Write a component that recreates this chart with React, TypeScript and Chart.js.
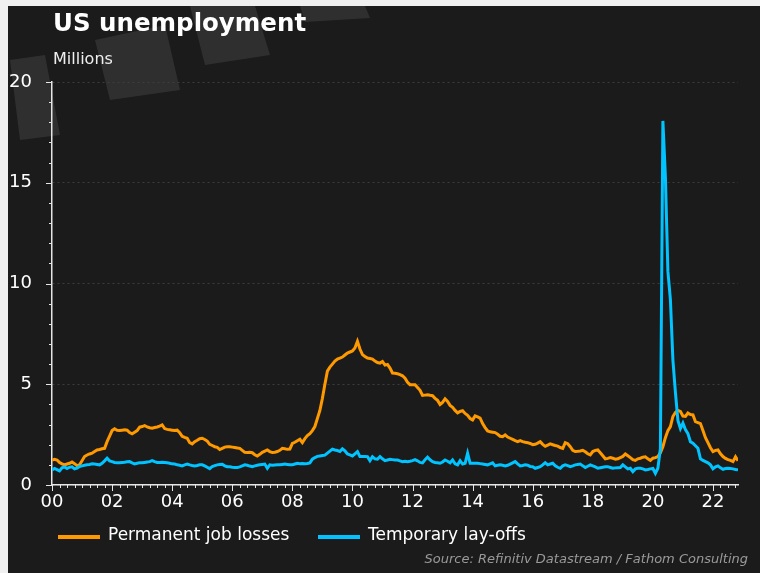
import React, { useEffect, useRef } from 'react';
import { Chart, registerables } from 'chart.js';

Chart.register(...registerables);

// Monthly series, January 2000 to November 2022 (millions)
const START_YEAR = 2000;
const TITLE = 'US unemployment';
const UNIT = 'Millions';
const SOURCE = 'Source: Refinitiv Datastream / Fathom Consulting';
const SERIES_NAMES = ['Permanent job losses', 'Temporary lay-offs'];
const X_TICK_LABELS = ['00', '02', '04', '06', '08', '10', '12', '14', '16', '18', '20', '22'];
const Y_TICK_STEP = 5;
const Y_MAX = 20;

const PERMANENT = [
  1.24, 1.28, 1.24, 1.12, 1.05, 1.0, 1.04, 1.08, 1.14, 1.06, 0.96, 1.0, // 2000
  1.2, 1.41, 1.49, 1.54, 1.58, 1.66, 1.74, 1.76, 1.8, 1.82, 2.15, 2.42, // 2001
  2.7, 2.79, 2.72, 2.7, 2.72, 2.74, 2.72, 2.6, 2.54, 2.62, 2.7, 2.87, // 2002
  2.9, 2.95, 2.88, 2.84, 2.82, 2.85, 2.88, 2.92, 2.98, 2.8, 2.76, 2.74, // 2003
  2.72, 2.7, 2.72, 2.6, 2.42, 2.36, 2.32, 2.1, 2.04, 2.15, 2.22, 2.3, // 2004
  2.32, 2.26, 2.18, 2.02, 1.96, 1.9, 1.87, 1.76, 1.82, 1.88, 1.9, 1.9, // 2005
  1.88, 1.86, 1.84, 1.82, 1.72, 1.62, 1.61, 1.62, 1.6, 1.5, 1.44, 1.52, // 2006
  1.62, 1.68, 1.74, 1.66, 1.61, 1.63, 1.66, 1.72, 1.82, 1.8, 1.77, 1.78, // 2007
  2.07, 2.12, 2.2, 2.27, 2.1, 2.3, 2.45, 2.55, 2.7, 2.9, 3.3, 3.7, // 2008
  4.3, 5.0, 5.65, 5.85, 6.0, 6.15, 6.25, 6.3, 6.35, 6.45, 6.55, 6.6, // 2009
  6.65, 6.8, 7.13, 6.75, 6.47, 6.38, 6.3, 6.28, 6.25, 6.15, 6.08, 6.05, // 2010
  6.13, 5.95, 5.98, 5.8, 5.56, 5.55, 5.52, 5.48, 5.42, 5.3, 5.1, 4.98, // 2011
  4.98, 4.98, 4.84, 4.7, 4.45, 4.46, 4.48, 4.45, 4.43, 4.3, 4.2, 4.0, // 2012
  4.1, 4.28, 4.15, 3.95, 3.86, 3.7, 3.58, 3.65, 3.69, 3.55, 3.46, 3.3, // 2013
  3.23, 3.43, 3.38, 3.32, 3.05, 2.85, 2.68, 2.64, 2.62, 2.6, 2.52, 2.42, // 2014
  2.4, 2.49, 2.38, 2.32, 2.26, 2.2, 2.15, 2.2, 2.15, 2.12, 2.1, 2.06, // 2015
  2.0, 2.02, 2.08, 2.15, 2.02, 1.92, 1.98, 2.04, 2.0, 1.96, 1.93, 1.86, // 2016
  1.82, 2.1, 2.05, 1.9, 1.72, 1.66, 1.67, 1.69, 1.72, 1.65, 1.55, 1.49, // 2017
  1.66, 1.72, 1.74, 1.6, 1.45, 1.3, 1.32, 1.36, 1.33, 1.28, 1.3, 1.36, // 2018
  1.42, 1.54, 1.45, 1.36, 1.26, 1.22, 1.3, 1.33, 1.38, 1.4, 1.3, 1.22, // 2019
  1.33, 1.36, 1.41, 1.6, 1.9, 2.35, 2.7, 2.9, 3.4, 3.6, 3.7, 3.65, // 2020
  3.42, 3.4, 3.57, 3.5, 3.48, 3.15, 3.1, 3.05, 2.7, 2.35, 2.1, 1.85, // 2021
  1.66, 1.72, 1.74, 1.55, 1.41, 1.32, 1.26, 1.22, 1.16, 1.4, 1.2, // 2022
];

const TEMPORARY = [
  0.75, 0.82, 0.76, 0.7, 0.85, 0.9, 0.82, 0.88, 0.9, 0.8, 0.84, 0.92, // 2000
  0.95, 0.98, 1.0, 1.02, 1.05, 1.04, 1.02, 1.0, 1.08, 1.2, 1.33, 1.2, // 2001
  1.16, 1.12, 1.1, 1.1, 1.12, 1.13, 1.15, 1.16, 1.1, 1.05, 1.08, 1.1, // 2002
  1.1, 1.12, 1.14, 1.16, 1.21, 1.16, 1.12, 1.12, 1.13, 1.12, 1.1, 1.08, // 2003
  1.05, 1.04, 1.0, 0.98, 0.95, 1.0, 1.04, 1.0, 0.97, 0.95, 0.97, 1.0, // 2004
  1.0, 0.95, 0.88, 0.81, 0.92, 0.96, 1.0, 1.02, 1.03, 0.95, 0.91, 0.9, // 2005
  0.88, 0.87, 0.87, 0.9, 0.95, 1.0, 0.98, 0.94, 0.91, 0.95, 0.98, 1.0, // 2006
  1.02, 1.04, 0.83, 1.0, 0.98, 0.99, 1.0, 1.0, 1.02, 1.04, 1.02, 1.0, // 2007
  1.0, 1.04, 1.08, 1.06, 1.07, 1.06, 1.07, 1.1, 1.28, 1.36, 1.42, 1.44, // 2008
  1.46, 1.48, 1.58, 1.68, 1.78, 1.74, 1.71, 1.66, 1.8, 1.7, 1.54, 1.5, // 2009
  1.44, 1.55, 1.66, 1.41, 1.41, 1.42, 1.41, 1.21, 1.4, 1.3, 1.28, 1.41, // 2010
  1.3, 1.21, 1.24, 1.28, 1.26, 1.24, 1.24, 1.2, 1.16, 1.18, 1.16, 1.18, // 2011
  1.21, 1.26, 1.2, 1.12, 1.1, 1.25, 1.38, 1.25, 1.16, 1.12, 1.1, 1.08, // 2012
  1.14, 1.24, 1.18, 1.1, 1.24, 1.05, 1.0, 1.21, 1.04, 1.08, 1.58, 1.08, // 2013
  1.08, 1.08, 1.08, 1.06, 1.04, 1.02, 1.0, 1.05, 1.1, 0.95, 0.98, 1.0, // 2014
  0.98, 0.95, 0.98, 1.04, 1.1, 1.16, 1.05, 0.95, 0.97, 1.0, 0.98, 0.92, // 2015
  0.91, 0.83, 0.87, 0.91, 1.0, 1.11, 1.0, 1.04, 1.08, 0.95, 0.88, 0.83, // 2016
  0.95, 1.0, 0.96, 0.91, 0.95, 1.0, 1.02, 1.04, 0.95, 0.87, 0.93, 1.0, // 2017
  0.95, 0.9, 0.83, 0.86, 0.88, 0.9, 0.91, 0.87, 0.83, 0.85, 0.86, 0.87, // 2018
  1.0, 0.9, 0.8, 0.83, 0.66, 0.8, 0.83, 0.83, 0.8, 0.75, 0.77, 0.8, // 2019
  0.82, 0.58, 0.83, 1.8, 18.07, 15.3, 10.6, 9.2, 6.2, 4.6, 3.2, 2.8, // 2020
  3.07, 2.75, 2.55, 2.15, 2.07, 1.95, 1.82, 1.3, 1.22, 1.16, 1.1, 1.0, // 2021
  0.8, 0.9, 0.95, 0.85, 0.78, 0.82, 0.83, 0.82, 0.8, 0.77, 0.75, // 2022
];

const COLORS = ['#FF9900', '#00C3FF'];
const FONT = "'DejaVu Sans', 'Liberation Sans', sans-serif";
const AXIS_COLOR = '#e6e6e6';

const decorPlugin = {
  id: 'decor',
  beforeDraw(chart: any) {
    const ctx = chart.ctx;
    ctx.save();
    ctx.fillStyle = '#1b1b1b';
    ctx.fillRect(0, 0, chart.width, chart.height);
    // faint logo stripes in the top-left corner
    ctx.fillStyle = 'rgba(255,255,255,0.09)';
    const shapes = [
      [[2, 54], [37, 49], [52, 129], [12, 134]],
      [[87, 34], [157, 19], [172, 84], [102, 94]],
      [[182, 0], [247, 0], [262, 49], [197, 59]],
      [[292, 0], [357, 0], [362, 12], [297, 16]],
    ];
    for (const s of shapes) {
      ctx.beginPath();
      ctx.moveTo(s[0][0], s[0][1]);
      for (let i = 1; i < s.length; i++) ctx.lineTo(s[i][0], s[i][1]);
      ctx.closePath();
      ctx.fill();
    }
    ctx.restore();
  },
  afterDraw(chart: any) {
    const ctx = chart.ctx;
    const { left, bottom } = chart.chartArea;
    const xs = chart.scales.x;
    const ys = chart.scales.y;
    ctx.save();
    ctx.strokeStyle = AXIS_COLOR;
    ctx.lineWidth = 1;
    ctx.beginPath();
    for (let v = 0; v <= Y_MAX; v++) {
      const y = Math.round(ys.getPixelForValue(v)) + 0.5;
      const len = v % Y_TICK_STEP === 0 ? 6 : 3;
      ctx.moveTo(left - len, y);
      ctx.lineTo(left, y);
    }
    const last = PERMANENT.length - 1;
    for (let m = 0; m <= last; m += 3) {
      const x = Math.round(xs.getPixelForValue(m)) + 0.5;
      const len = m % 24 === 0 ? 6 : 3;
      ctx.moveTo(x, bottom);
      ctx.lineTo(x, bottom + len);
    }
    ctx.stroke();
    ctx.restore();
  },
};

export default function App() {
  const canvasRef = useRef<HTMLCanvasElement | null>(null);

  useEffect(() => {
    if (!canvasRef.current) return;
    const toPoints = (arr: number[]) => arr.map((v, i) => ({ x: i, y: v }));
    const chart = new Chart(canvasRef.current, {
      type: 'line',
      data: {
        datasets: [
          {
            label: SERIES_NAMES[0],
            data: toPoints(PERMANENT),
            borderColor: COLORS[0],
            backgroundColor: COLORS[0],
            borderWidth: 3,
            pointRadius: 0,
            tension: 0,
            fill: false,
            order: 1,
          },
          {
            label: SERIES_NAMES[1],
            data: toPoints(TEMPORARY),
            borderColor: COLORS[1],
            backgroundColor: COLORS[1],
            borderWidth: 3,
            pointRadius: 0,
            tension: 0,
            fill: false,
            order: 0,
          },
        ],
      },
      options: {
        responsive: false,
        animation: false,
        layout: { padding: { top: 76, right: 22, left: 0, bottom: 0 } },
        plugins: {
          legend: { display: false },
          title: { display: false },
          tooltip: { enabled: false },
        },
        scales: {
          x: {
            type: 'linear',
            min: 0,
            max: PERMANENT.length - 1,
            grid: { display: false, drawTicks: false },
            border: { display: true, color: AXIS_COLOR, width: 1.5 },
            ticks: {
              stepSize: 24,
              includeBounds: false,
              autoSkip: false,
              maxRotation: 0,
              padding: 7,
              color: '#ffffff',
              font: { family: FONT, size: 18 },
              callback: (v: any) => {
                const n = Number(v);
                return n % 24 === 0 ? X_TICK_LABELS[n / 24] ?? String((START_YEAR + n / 12) % 100).padStart(2, '0') : '';
              },
            },
            afterFit: (s: any) => {
              s.height = 88;
            },
          },
          y: {
            min: 0,
            max: Y_MAX,
            grid: { color: '#3d3d3d', lineWidth: 1, drawTicks: false },
            border: { display: true, color: AXIS_COLOR, width: 1.5, dash: [2, 3] },
            ticks: {
              stepSize: Y_TICK_STEP,
              padding: 20,
              color: '#ffffff',
              font: { family: FONT, size: 18 },
            },
            afterFit: (s: any) => {
              s.width = 44;
            },
          },
        },
      },
      plugins: [decorPlugin],
    } as any);
    return () => chart.destroy();
  }, []);

  const abs = (o: any) => ({ position: 'absolute' as const, margin: 0, lineHeight: 1, whiteSpace: 'nowrap' as const, fontFamily: FONT, ...o });

  return (
    <div style={{ position: 'absolute', left: 0, top: 0, width: 760, height: 573, background: '#f0f0f0', overflow: 'hidden' }}>
      <div style={{ position: 'absolute', left: 8, top: 6, width: 752, height: 567, background: '#1b1b1b' }}>
        <canvas ref={canvasRef} width={752} height={567} style={{ position: 'absolute', left: 0, top: 0, width: 752, height: 567 }} />
      </div>
      <div style={abs({ left: 53, top: 11, fontSize: 24.5, fontWeight: 'bold', color: '#ffffff' })}>{TITLE}</div>
      <div style={abs({ left: 53, top: 51, fontSize: 16, color: '#eeeeee' })}>{UNIT}</div>
      <div style={abs({ left: 58, top: 535, width: 42, height: 4, background: COLORS[0] })} />
      <div style={abs({ left: 108, top: 526, fontSize: 17, color: '#ffffff' })}>{SERIES_NAMES[0]}</div>
      <div style={abs({ left: 318, top: 535, width: 42, height: 4, background: COLORS[1] })} />
      <div style={abs({ left: 368, top: 526, fontSize: 17, color: '#ffffff' })}>{SERIES_NAMES[1]}</div>
      <div style={abs({ left: 0, width: 748, top: 552, fontSize: 13, fontStyle: 'italic', color: '#9a9a9a', textAlign: 'right' })}>{SOURCE}</div>
    </div>
  );
}
